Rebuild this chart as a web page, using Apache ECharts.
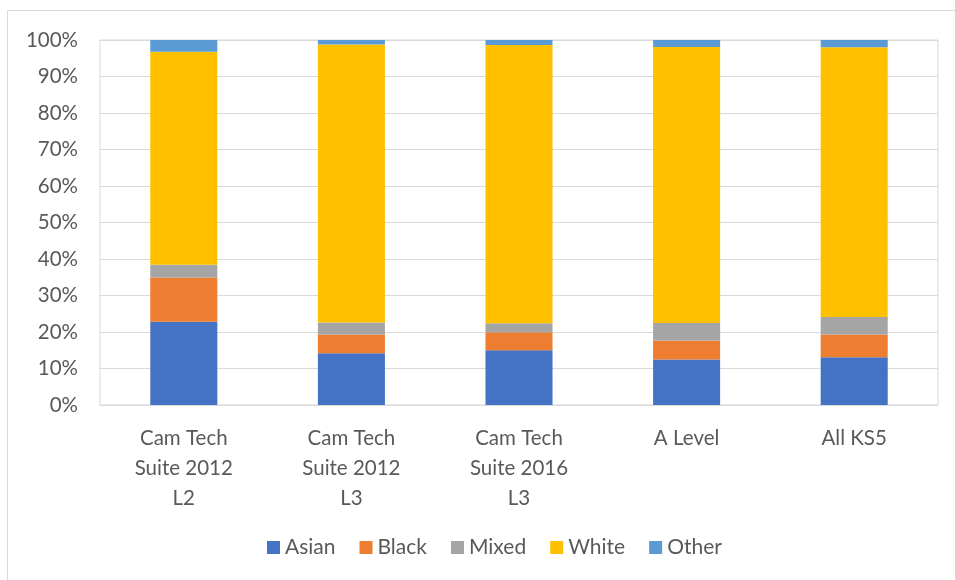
<!DOCTYPE html>
<html>
<head>
<meta charset="utf-8">
<script src="https://cdn.jsdelivr.net/npm/echarts@6/dist/echarts.min.js"></script>
<style>
html,body{margin:0;padding:0;background:#fff;}
#frame{position:absolute;left:7px;top:10px;width:948px;height:570px;border-top:1px solid #D9D9D9;border-left:1px solid #D9D9D9;box-sizing:border-box;}
#chart{position:absolute;left:0;top:0;width:955px;height:580px;}
</style>
</head>
<body>
<div id="frame"></div>
<div id="chart"></div>
<script>
const categories = ['Cam Tech\nSuite 2012\nL2', 'Cam Tech\nSuite 2012\nL3', 'Cam Tech\nSuite 2016\nL3', 'A Level', 'All KS5'];
const asian = [22.8, 14.2, 15.0, 12.5, 13.1];
const black = [12.1, 5.1, 4.9, 5.2, 6.2];
const mixed = [3.5, 3.3, 2.5, 4.8, 4.8];
const white = [58.4, 76.2, 76.2, 75.6, 73.9];
const other = [3.2, 1.2, 1.4, 1.9, 2.0];
const yTicks = [0, 10, 20, 30, 40, 50, 60, 70, 80, 90, 100];

const seriesDefs = [
  ['Asian', asian, '#4472C4'],
  ['Black', black, '#ED7D31'],
  ['Mixed', mixed, '#A5A5A5'],
  ['White', white, '#FFC000'],
  ['Other', other, '#5B9BD5']
];

const chart = echarts.init(document.getElementById('chart'), null, {renderer: 'canvas'});
chart.setOption({
  animation: false,
  textStyle: {fontFamily: 'Lato'},
  grid: {left: 100, right: 17, top: 40, bottom: 175, show: true, borderColor: '#D9D9D9', borderWidth: 1},
  legend: {
    bottom: 17, left: 262,
    itemWidth: 13, itemHeight: 13, itemGap: 24,
    icon: 'rect',
    textStyle: {fontSize: 21, color: '#595959', fontFamily: 'Lato'},
    data: seriesDefs.map(s => s[0])
  },
  xAxis: {
    type: 'category',
    data: categories,
    axisLine: {lineStyle: {color: '#D9D9D9'}},
    axisTick: {show: false},
    axisLabel: {fontSize: 20.5, color: '#595959', lineHeight: 30, margin: 18, interval: 0}
  },
  yAxis: {
    type: 'value',
    min: yTicks[0], max: yTicks[yTicks.length - 1], interval: 10,
    axisLine: {show: false},
    axisTick: {show: false},
    splitLine: {lineStyle: {color: '#D9D9D9'}},
    axisLabel: {fontSize: 20.5, color: '#595959', margin: 22, formatter: v => v + '%'}
  },
  series: seriesDefs.map(s => ({
    name: s[0], type: 'bar', stack: 'total', data: s[1],
    barWidth: '40%',
    itemStyle: {color: s[2]}
  }))
});
</script>
</body>
</html>
